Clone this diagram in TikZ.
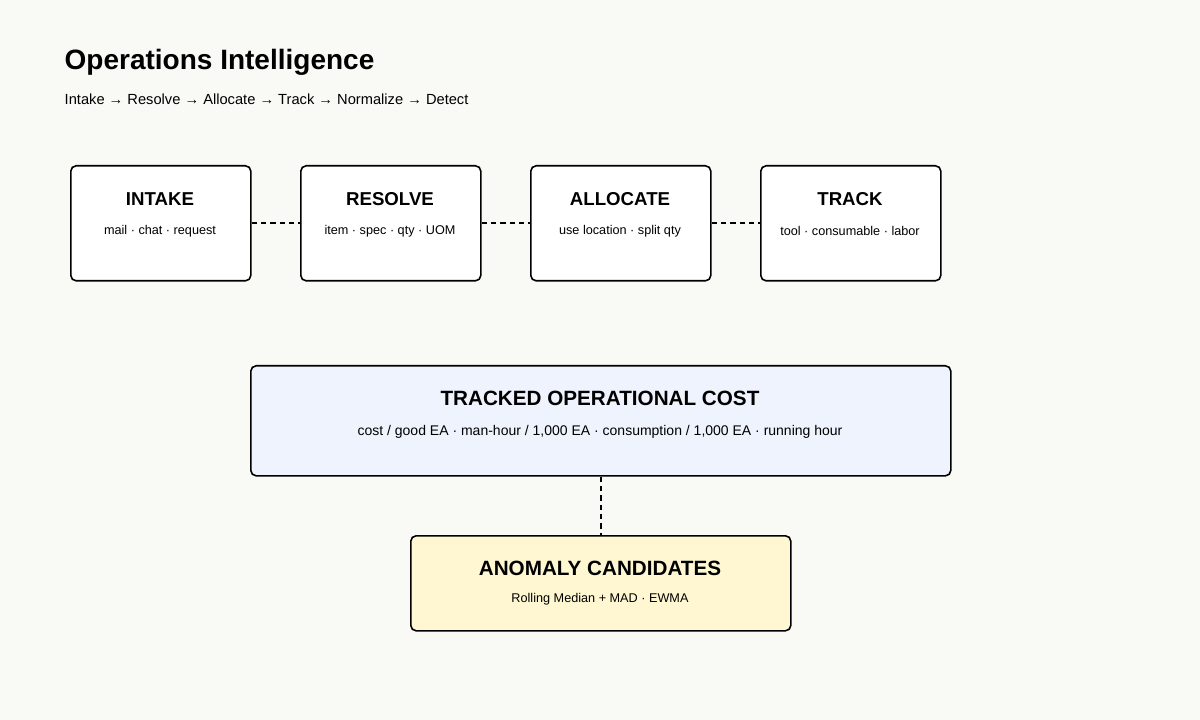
\documentclass[tikz,border=0pt]{standalone}
\usepackage{fontspec}
\setmainfont{Liberation Sans}
\begin{document}
\begin{tikzpicture}[x=0.75pt,y=-0.75pt,
  box/.style={draw=black,line width=1.2pt,rounded corners=4pt,fill=white,inner sep=0},
  ttl/.style={font=\bfseries\fontsize{14}{16}\selectfont},
  sub/.style={font=\fontsize{9.5}{11}\selectfont},
  conn/.style={line width=1.2pt,dash pattern=on 4pt off 3pt}]
\fill[fill={rgb,255:red,249;green,249;blue,245}] (0,0) rectangle (1200,720);
\useasboundingbox (0,0) rectangle (1200,720);
\node[anchor=base west,font=\bfseries\fontsize{21}{24}\selectfont] (title) at (60,70) {Operations Intelligence};
\node[anchor=base west,font=\fontsize{11}{13}\selectfont] (subt) at (60,105) {Intake → Resolve → Allocate → Track → Normalize → Detect};
\foreach \n/\x/\t/\s in {a/70/INTAKE/mail · chat · request, b/300/RESOLVE/item · spec · qty · UOM, c/530/ALLOCATE/use location · split qty, d/760/TRACK/tool · consumable · labor}{
  \node[box,minimum width=135pt,minimum height=86.25pt,anchor=north west] (\n) at (\x,165) {};
  \node[ttl] (\n t) at (\x+90,199) {\t};
  \node[sub] (\n s) at (\x+90,231) {\s};
}
\draw[conn] (a.east) -- (b.west);
\draw[conn] (b.east) -- (c.west);
\draw[conn] (c.east) -- (d.west);
\node[box,fill={rgb,255:red,238;green,243;blue,253},minimum width=525pt,minimum height=82.5pt,anchor=north west] (e) at (250,365) {};
\node[ttl,font=\bfseries\fontsize{15.5}{18}\selectfont] (et) at (600,398) {TRACKED OPERATIONAL COST};
\node[font=\fontsize{10.5}{12}\selectfont] (es) at (600,432) {cost / good EA · man-hour / 1,000 EA · consumption / 1,000 EA · running hour};
\node[box,fill={rgb,255:red,254;green,247;blue,209},minimum width=285pt,minimum height=71.25pt,anchor=north west] (f) at (410,535) {};
\node[ttl,font=\bfseries\fontsize{15.5}{18}\selectfont] (ft) at (600,568) {ANOMALY CANDIDATES};
\node[sub] (fs) at (600,599) {Rolling Median + MAD · EWMA};
\draw[conn] (e.south) -- (f.north);
\end{tikzpicture}
\end{document}
